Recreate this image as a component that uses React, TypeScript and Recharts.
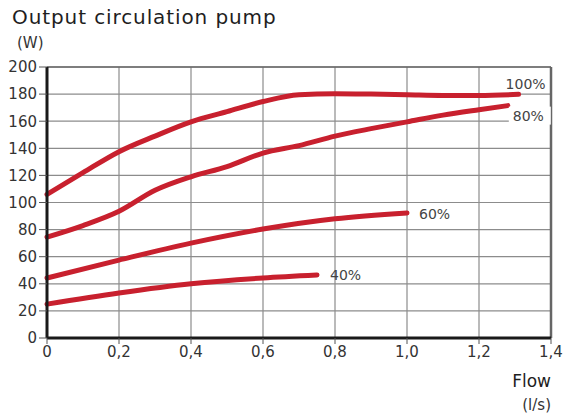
import React from 'react';
import { LineChart, Line, XAxis, YAxis, CartesianGrid, ReferenceLine } from 'recharts';

const flowTicks = [0, 0.2, 0.4, 0.6, 0.8, 1.0, 1.2, 1.4];
const powerTicks = [0, 20, 40, 60, 80, 100, 120, 140, 160, 180, 200];

const flow100 = [0, 0.1, 0.2, 0.3, 0.4, 0.5, 0.6, 0.7, 0.8, 0.9, 1.0, 1.1, 1.2, 1.31];
const power100 = [106, 122, 137.5, 149, 159.5, 167, 174.5, 179.5, 180.3, 180, 179.5, 179, 179, 179.8];

const flow80 = [0, 0.1, 0.2, 0.3, 0.4, 0.5, 0.6, 0.7, 0.8, 0.9, 1.0, 1.1, 1.2, 1.28];
const power80 = [74.5, 83, 93.5, 109, 119, 126.5, 136.5, 142, 149, 154.5, 159.5, 164.5, 168.5, 171.5];

const flow60 = [0, 0.2, 0.4, 0.6, 0.8, 1.0];
const power60 = [44.3, 57.5, 70, 80.4, 88, 92.3];

const flow40 = [0, 0.2, 0.4, 0.6, 0.75];
const power40 = [25, 33.2, 40, 44.3, 46.5];

const series = [
  { name: '100%', flow: flow100, power: power100, dx: -13, dy: -10, bg: false },
  { name: '80%', flow: flow80, power: power80, dx: 5, dy: 10, bg: true },
  { name: '60%', flow: flow60, power: power60, dx: 12, dy: 1, bg: false },
  { name: '40%', flow: flow40, power: power40, dx: 13, dy: 0, bg: false },
];

const RED = '#c8202e';
const FONT = '"DejaVu Sans", sans-serif';

const fmt = (v: number) => (v === 0 ? '0' : v.toFixed(1).replace('.', ','));

const makeLabel = (s: typeof series[number]) => (props: any) => {
  const { x, y, index } = props;
  if (index !== s.flow.length - 1) return null;
  const tx = x + s.dx;
  const ty = y + s.dy;
  return (
    <g key={`lbl-${s.name}`}>
      {s.bg && <rect x={tx - 4} y={ty - 9} width={42} height={18} fill="#fff" />}
      <text x={tx} y={ty} dy="0.36em" fontSize={14} fill="#444" fontFamily={FONT}>
        {s.name}
      </text>
    </g>
  );
};

export default function App() {
  return (
    <div style={{ position: 'absolute', left: 0, top: 0, width: 576, height: 416, background: '#fff', fontFamily: FONT }}>
      <div style={{ position: 'absolute', left: 12, top: 5, fontSize: 20, letterSpacing: 0.9, color: '#1e1e1e' }}>Output circulation pump</div>
      <div style={{ position: 'absolute', left: 17, top: 34, fontSize: 15, color: '#333' }}>(W)</div>
      <div style={{ position: 'absolute', right: 25, top: 371, fontSize: 17, color: '#1e1e1e' }}>Flow</div>
      <div style={{ position: 'absolute', right: 25, top: 396, fontSize: 15, color: '#333' }}>(l/s)</div>
      <LineChart width={576} height={416} margin={{ top: 67, right: 25, bottom: 48, left: 0 }}>
        <CartesianGrid stroke="#8c8c8c" strokeWidth={1.2} />
        <XAxis
          type="number"
          dataKey="x"
          domain={[0, 1.4]}
          ticks={flowTicks}
          tickFormatter={fmt}
          height={30}
          axisLine={{ stroke: '#1a1a1a', strokeWidth: 3 }}
          tickLine={{ stroke: '#555' }}
          tickSize={6}
          tick={{ fontSize: 15, fill: '#333', fontFamily: FONT }}
          allowDuplicatedCategory={false}
        />
        <YAxis
          type="number"
          domain={[0, 200]}
          ticks={powerTicks}
          width={47}
          axisLine={{ stroke: '#1a1a1a', strokeWidth: 3 }}
          tickLine={{ stroke: '#555' }}
          tickSize={8}
          tick={{ fontSize: 15, fill: '#333', fontFamily: FONT }}
        />
        <ReferenceLine x={1.4} stroke="#666" strokeWidth={2.5} />
        <ReferenceLine y={200} stroke="#666" strokeWidth={1.5} />
        {series.map((s) => (
          <Line
            key={s.name}
            data={s.flow.map((f, i) => ({ x: f, y: s.power[i] }))}
            dataKey="y"
            type="monotone"
            stroke={RED}
            strokeWidth={5}
            strokeLinecap="round"
            dot={false}
            activeDot={false}
            isAnimationActive={false}
            label={makeLabel(s)}
          />
        ))}
      </LineChart>
    </div>
  );
}
